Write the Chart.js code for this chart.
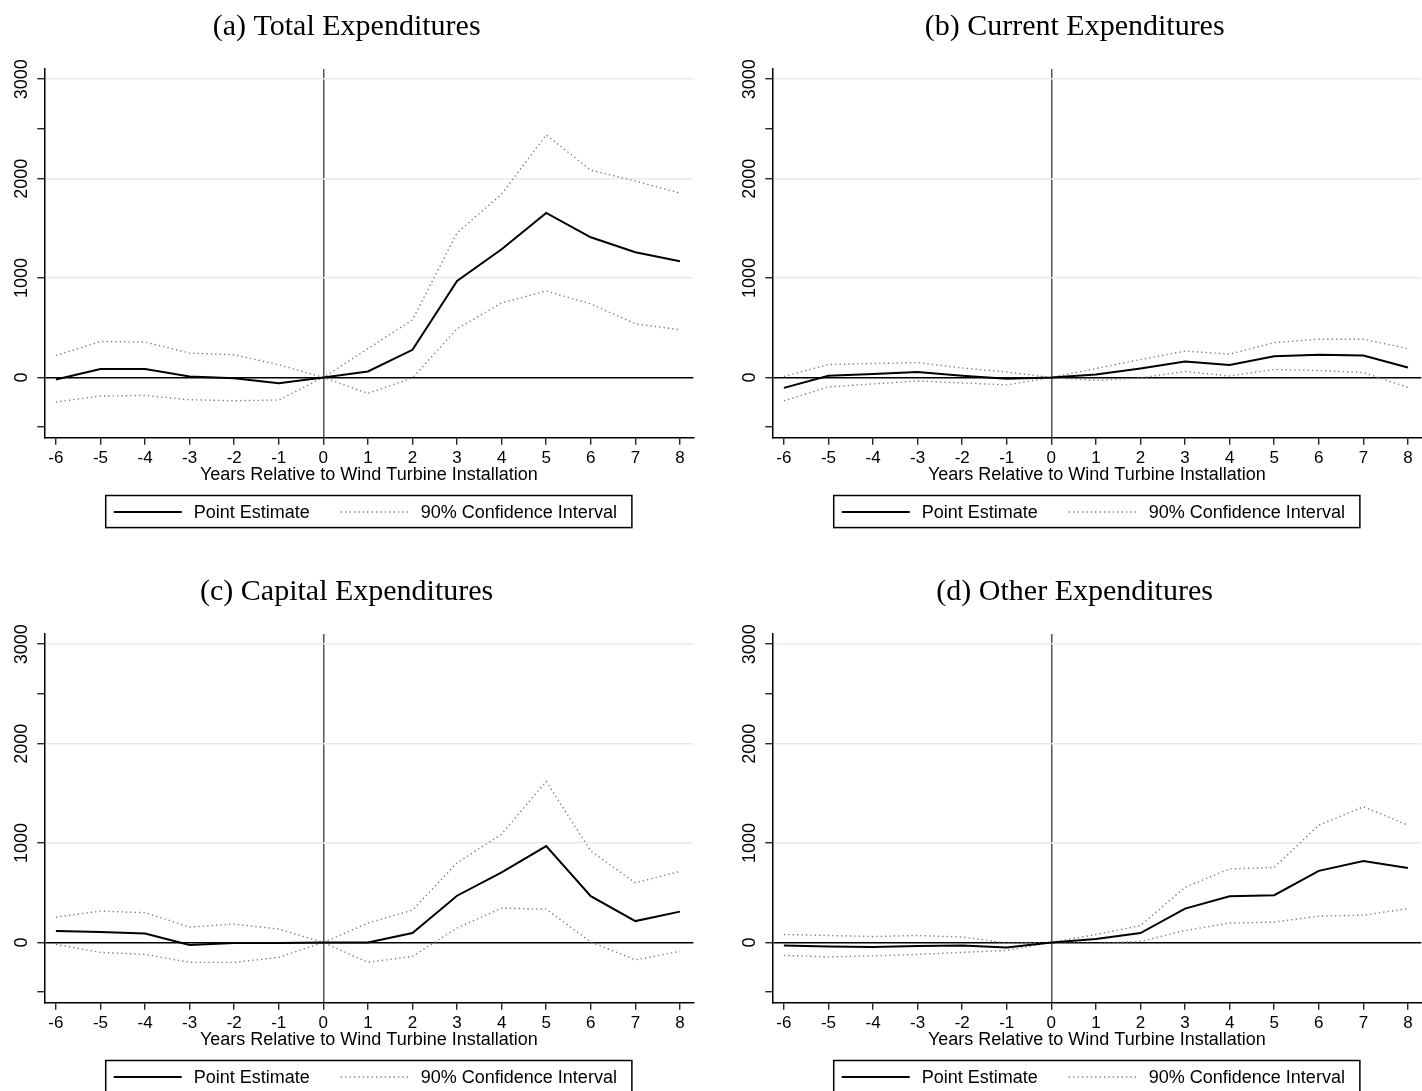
<!DOCTYPE html>
<html>
<head>
<meta charset="utf-8">
<title>Expenditures event study</title>
<script src="https://cdn.jsdelivr.net/npm/chart.js@4.4.1/dist/chart.umd.min.js"></script>
<style>
  html, body { margin: 0; padding: 0; background: #fff; width: 1422px; height: 1091px; overflow: hidden; }
  .panel { position: absolute; width: 704px; height: 560px; }
</style>
</head>
<body>
<div class="panel" style="left:0;top:0"><canvas id="chart-a" width="704" height="560"></canvas></div>
<div class="panel" style="left:728px;top:0"><canvas id="chart-b" width="704" height="560"></canvas></div>
<div class="panel" style="left:0;top:565px"><canvas id="chart-c" width="704" height="560"></canvas></div>
<div class="panel" style="left:728px;top:565px"><canvas id="chart-d" width="704" height="560"></canvas></div>
<script>
/* data */
const years = [-6, -5, -4, -3, -2, -1, 0, 1, 2, 3, 4, 5, 6, 7, 8];

const totalEst = [-20, 85, 85, 10, -8, -57, 0, 60, 278, 970, 1290, 1655, 1410, 1260, 1170];
const totalHi  = [221, 362, 356, 245, 228, 128, 0, 290, 580, 1455, 1845, 2440, 2085, 1975, 1855];
const totalLo  = [-247, -187, -181, -224, -234, -227, 0, -160, -5, 490, 750, 870, 740, 540, 480];

const currentEst = [-105, 17, 35, 55, 17, -13, 0, 30, 90, 160, 125, 213, 228, 220, 100];
const currentHi  = [10, 130, 140, 150, 95, 55, 0, 90, 180, 265, 235, 350, 385, 385, 290];
const currentLo  = [-235, -95, -65, -35, -55, -75, 0, -30, -5, 60, 15, 80, 70, 50, -100];

const capitalEst = [115, 105, 90, -25, -5, -5, 0, 0, 95, 470, 705, 970, 465, 215, 310];
const capitalHi  = [255, 315, 300, 155, 185, 135, 0, 195, 325, 800, 1090, 1620, 920, 600, 715];
const capitalLo  = [-20, -100, -120, -200, -200, -150, 0, -200, -140, 145, 345, 335, 5, -175, -90];

const otherEst = [-30, -40, -45, -35, -30, -50, 0, 35, 95, 340, 465, 475, 720, 820, 750];
const otherHi  = [80, 70, 60, 70, 55, -5, 0, 80, 170, 555, 740, 755, 1180, 1365, 1180];
const otherLo  = [-130, -145, -135, -120, -100, -80, 0, -10, 10, 120, 195, 205, 265, 275, 340];

const panelTitles = ['(a) Total Expenditures', '(b) Current Expenditures', '(c) Capital Expenditures', '(d) Other Expenditures'];
const xTitle = 'Years Relative to Wind Turbine Installation';
const estLabel = 'Point Estimate';
const ciLabel = '90% Confidence Interval';
const yTicks = [-500, 0, 1000, 2000, 2500, 3000];
const yLabels = [0, 1000, 2000, 3000];

const SANS = '"Liberation Sans", Arial, Helvetica, sans-serif';
Chart.defaults.font.family = SANS;
Chart.defaults.color = '#000';

// rotated y labels, like the original
const yLabelPlugin = {
  id: 'yLabelPlugin',
  afterDraw(chart) {
    const { ctx, chartArea } = chart;
    const ys = chart.scales.y;
    ctx.save();
    ctx.font = '18px ' + SANS;
    ctx.fillStyle = '#000';
    ctx.textAlign = 'center';
    ctx.textBaseline = 'middle';
    yLabels.forEach(v => {
      const py = ys.getPixelForValue(v);
      ctx.save();
      ctx.translate(chartArea.left - 22, py);
      ctx.rotate(-Math.PI / 2);
      ctx.fillText(String(v), 0, 0);
      ctx.restore();
    });
    ctx.restore();
  }
};

// framed legend under the plot
const frameLegend = {
  id: 'frameLegend',
  afterDraw(chart) {
    const { ctx, chartArea } = chart;
    const seen = {};
    const items = chart.data.datasets.filter(ds => {
      if (seen[ds.label]) return false;
      seen[ds.label] = true;
      return true;
    });
    const sampleLen = 68, gapText = 12, gapItem = 31, padL = 8, padR = 15;
    ctx.save();
    ctx.font = '18px ' + SANS;
    let w = padL;
    items.forEach((ds, i) => {
      w += sampleLen + gapText + ctx.measureText(ds.label).width + (i < items.length - 1 ? gapItem : padR);
    });
    const cx = (chartArea.left + chartArea.right) / 2;
    const top = chartArea.bottom + 57.8, bottom = chartArea.bottom + 89.9, midY = chartArea.bottom + 74.3;
    let x = cx - w / 2;
    ctx.strokeStyle = '#000';
    ctx.lineWidth = 1.5;
    ctx.strokeRect(x, top, w, bottom - top);
    x += padL;
    items.forEach(ds => {
      ctx.beginPath();
      ctx.setLineDash(ds.borderDash || []);
      ctx.strokeStyle = ds.borderColor;
      ctx.lineWidth = ds.borderWidth;
      ctx.moveTo(x, midY);
      ctx.lineTo(x + sampleLen, midY);
      ctx.stroke();
      ctx.setLineDash([]);
      x += sampleLen + gapText;
      ctx.fillStyle = '#000';
      ctx.textBaseline = 'middle';
      ctx.textAlign = 'left';
      ctx.fillText(ds.label, x, midY + 1);
      x += ctx.measureText(ds.label).width + gapItem;
    });
    ctx.restore();
  }
};

function pts(vals) {
  return years.map((yr, i) => ({ x: yr, y: vals[i] }));
}

function makePanel(id, title, est, hi, lo) {
  const ciStyle = { borderColor: '#7a7a7a', borderWidth: 1.4, borderDash: [1.3, 3.1], pointRadius: 0, tension: 0, fill: false, order: 1 };
  return new Chart(document.getElementById(id), {
    type: 'line',
    data: {
      datasets: [
        { label: estLabel, data: pts(est), borderColor: '#000', borderWidth: 2, pointRadius: 0, tension: 0, fill: false, order: 0 },
        Object.assign({ label: ciLabel, data: pts(hi) }, ciStyle),
        Object.assign({ label: ciLabel, data: pts(lo) }, ciStyle)
      ]
    },
    options: {
      responsive: false,
      animation: false,
      events: [],
      layout: { padding: { left: 0, right: 10.7, top: 0, bottom: 72.3 } },
      plugins: {
        legend: { display: false },
        tooltip: { enabled: false },
        title: {
          display: true,
          text: title,
          color: '#000',
          font: { family: '"Liberation Serif", "Times New Roman", serif', size: 30, weight: 'normal', lineHeight: 1.2 },
          padding: { top: 9, bottom: 24 }
        }
      },
      scales: {
        x: {
          type: 'linear',
          min: -6.26,
          max: 8.30,
          afterBuildTicks: s => { s.ticks = years.map(v => ({ value: v })); },
          afterFit: s => { s.height = 50; },
          ticks: { font: { size: 17 }, color: '#000', padding: 3.7, maxRotation: 0, autoSkip: false, callback: v => String(v) },
          grid: {
            drawOnChartArea: true,
            color: c => (c.tick && c.tick.value === 0) ? '#555' : 'rgba(0,0,0,0)',
            lineWidth: 1.5,
            tickLength: 7,
            tickColor: '#000',
            tickWidth: 1.2
          },
          border: { display: true, color: '#000', width: 1.5 },
          title: { display: true, text: xTitle, color: '#000', font: { size: 18 }, padding: { top: 0, bottom: 2 } }
        },
        y: {
          min: -606,
          max: 3103,
          afterBuildTicks: s => { s.ticks = yTicks.map(v => ({ value: v })); },
          afterFit: s => { s.width = 44.3; },
          ticks: { display: false },
          grid: {
            color: c => {
              const v = c.tick ? c.tick.value : null;
              if (v === 0) return '#000';
              if (v === 1000 || v === 2000 || v === 3000) return '#e3ebed';
              return 'rgba(0,0,0,0)';
            },
            lineWidth: 1.5,
            tickLength: 7,
            tickColor: '#000',
            tickWidth: 1.2
          },
          border: { display: true, color: '#000', width: 1.5 }
        }
      }
    },
    plugins: [yLabelPlugin, frameLegend]
  });
}

makePanel('chart-a', panelTitles[0], totalEst, totalHi, totalLo);
makePanel('chart-b', panelTitles[1], currentEst, currentHi, currentLo);
makePanel('chart-c', panelTitles[2], capitalEst, capitalHi, capitalLo);
makePanel('chart-d', panelTitles[3], otherEst, otherHi, otherLo);
</script>
</body>
</html>
